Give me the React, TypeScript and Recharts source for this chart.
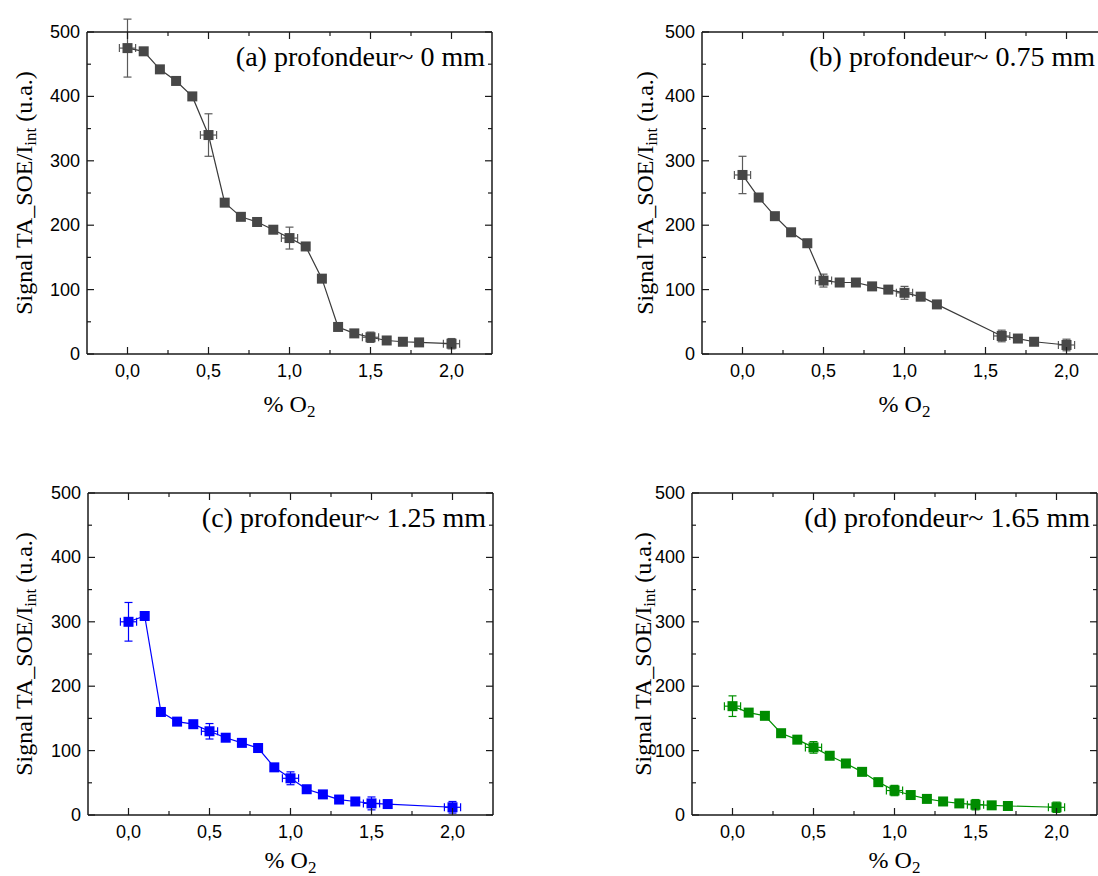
import React from "react";
import { ScatterChart, Scatter, XAxis, YAxis, ErrorBar } from "recharts";

// % O2 values and signal
const O2_A = [0, 0.1, 0.2, 0.3, 0.4, 0.5, 0.6, 0.7, 0.8, 0.9, 1.0, 1.1, 1.2, 1.3, 1.4, 1.5, 1.6, 1.7, 1.8, 2.0];
const SIGNAL_A = [475, 470, 442, 424, 400, 340, 235, 213, 205, 193, 180, 167, 117, 42, 32, 26, 21, 19, 18, 16];
const ERR_Y_A = [45, 0, 0, 0, 0, 33, 0, 0, 0, 0, 17, 0, 0, 0, 0, 8, 0, 0, 0, 8];
const ERR_X_A = [0.05, 0, 0, 0, 0, 0.05, 0, 0, 0, 0, 0.05, 0, 0, 0, 0, 0.05, 0, 0, 0, 0.05];

const O2_B = [0, 0.1, 0.2, 0.3, 0.4, 0.5, 0.6, 0.7, 0.8, 0.9, 1.0, 1.1, 1.2, 1.6, 1.7, 1.8, 2.0];
const SIGNAL_B = [278, 243, 214, 189, 172, 114, 111, 111, 105, 100, 95, 89, 77, 28, 24, 19, 14];
const ERR_Y_B = [29, 0, 0, 0, 0, 10, 0, 0, 0, 0, 10, 0, 0, 9, 0, 0, 9];
const ERR_X_B = [0.05, 0, 0, 0, 0, 0.05, 0, 0, 0, 0, 0.05, 0, 0, 0.05, 0, 0, 0.05];

const O2_C = [0, 0.1, 0.2, 0.3, 0.4, 0.5, 0.6, 0.7, 0.8, 0.9, 1.0, 1.1, 1.2, 1.3, 1.4, 1.5, 1.6, 2.0];
const SIGNAL_C = [300, 309, 160, 145, 141, 130, 120, 112, 104, 74, 57, 40, 32, 24, 21, 18, 17, 12];
const ERR_Y_C = [30, 0, 0, 0, 0, 12, 0, 0, 0, 0, 10, 0, 0, 0, 0, 10, 0, 9];
const ERR_X_C = [0.05, 0, 0, 0, 0, 0.05, 0, 0, 0, 0, 0.05, 0, 0, 0, 0, 0.05, 0, 0.05];

const O2_D = [0, 0.1, 0.2, 0.3, 0.4, 0.5, 0.6, 0.7, 0.8, 0.9, 1.0, 1.1, 1.2, 1.3, 1.4, 1.5, 1.6, 1.7, 2.0];
const SIGNAL_D = [169, 159, 154, 127, 117, 105, 92, 80, 67, 51, 38, 31, 25, 21, 18, 16, 15, 14, 12];
const ERR_Y_D = [16, 0, 0, 0, 0, 9, 0, 0, 0, 0, 8, 0, 0, 0, 0, 8, 0, 0, 8];
const ERR_X_D = [0.05, 0, 0, 0, 0, 0.05, 0, 0, 0, 0, 0.05, 0, 0, 0, 0, 0.05, 0, 0, 0.05];

const X_TICKS = [0, 0.25, 0.5, 0.75, 1, 1.25, 1.5, 1.75, 2];
const Y_TICKS = [0, 50, 100, 150, 200, 250, 300, 350, 400, 450, 500];

const SANS = "Arial, 'Liberation Sans', sans-serif";
const SERIF = "'Times New Roman', 'Liberation Serif', serif";
const AXIS = "#1a1a1a";

const isMajorX = (v: number) => Math.abs(v * 2 - Math.round(v * 2)) < 1e-6;
const isMajorY = (v: number) => v % 100 === 0;

const rows = (xs: number[], ys: number[], ex: number[], ey: number[]) =>
  xs.map((x, i) => ({ x, y: ys[i], ex: ex[i], ey: ey[i] }));

// ticks point inward, like the Origin box axes
const BottomTick = (p: any) => {
  const v = p.payload.value;
  const major = isMajorX(v);
  return (
    <g>
      <line x1={p.x} x2={p.x} y1={p.y} y2={p.y - (major ? 7 : 4)} stroke={AXIS} strokeWidth={1.2} />
      {major && (
        <text x={p.x} y={p.y + 23} textAnchor="middle" fontFamily={SANS} fontSize={18} fill="#000">
          {v.toFixed(1).replace(".", ",")}
        </text>
      )}
    </g>
  );
};

const TopTick = (p: any) => {
  const major = isMajorX(p.payload.value);
  return <line x1={p.x} x2={p.x} y1={p.y} y2={p.y + (major ? 7 : 4)} stroke={AXIS} strokeWidth={1.2} />;
};

const LeftTick = (p: any) => {
  const v = p.payload.value;
  const major = isMajorY(v);
  return (
    <g>
      <line x1={p.x} x2={p.x + (major ? 7 : 4)} y1={p.y} y2={p.y} stroke={AXIS} strokeWidth={1.2} />
      {major && (
        <text x={p.x - 7} y={p.y + 6} textAnchor="end" fontFamily={SANS} fontSize={18} fill="#000">
          {v}
        </text>
      )}
    </g>
  );
};

const RightTick = (p: any) => {
  const major = isMajorY(p.payload.value);
  return <line x1={p.x} x2={p.x - (major ? 7 : 4)} y1={p.y} y2={p.y} stroke={AXIS} strokeWidth={1.2} />;
};

interface PanelProps {
  data: { x: number; y: number; ex: number; ey: number }[];
  title: string;
  titleInset: number;
  left: number;
  top: number;
  yAxisWidth: number;
  marginRight: number;
  yLabelOffset: number;
  xLabelOffset: number;
  marker: string;
  line: string;
  err: string;
}

function Panel({ data, title, titleInset, left, top, yAxisWidth, marginRight, yLabelOffset, xLabelOffset, marker, line, err }: PanelProps) {
  const yLabel = (lp: any) => {
    const vb = lp.viewBox;
    const cx = vb.x + vb.width - yLabelOffset;
    const cy = vb.y + vb.height / 2;
    return (
      <text
        x={cx}
        y={cy}
        transform={`rotate(-90 ${cx} ${cy})`}
        textAnchor="middle"
        dominantBaseline="central"
        fontFamily={SERIF}
        fontSize={24}
        fill="#000"
      >
        Signal TA_SOE/I
        <tspan dy={6} fontSize={17}>int</tspan>
        <tspan dy={-6}> (u.a.)</tspan>
      </text>
    );
  };

  const xLabel = (lp: any) => {
    const vb = lp.viewBox;
    return (
      <text x={vb.x + vb.width / 2} y={vb.y + xLabelOffset} textAnchor="middle" fontFamily={SERIF} fontSize={24} fill="#000">
        % O
        <tspan dy={5} fontSize={17}>2</tspan>
      </text>
    );
  };

  const titleLabel = (lp: any) => {
    const vb = lp.viewBox;
    return (
      <text x={vb.x + vb.width - titleInset} y={vb.y + vb.height + 34} textAnchor="end" fontFamily={SERIF} fontSize={28} fill="#000">
        {title}
      </text>
    );
  };

  return (
    <div style={{ position: "absolute", left, top }}>
      <ScatterChart width={yAxisWidth + 405 + marginRight} height={440} margin={{ top: 31, right: marginRight - 1, left: 0, bottom: 0 }}>
        <XAxis
          xAxisId="b"
          type="number"
          dataKey="x"
          domain={[-0.25, 2.25]}
          ticks={X_TICKS}
          interval={0}
          allowDataOverflow
          height={86}
          tickSize={0}
          tickMargin={0}
          tickLine={false}
          axisLine={{ stroke: AXIS, strokeWidth: 1.5 }}
          tick={(p: any) => <BottomTick {...p} />}
          label={xLabel}
        />
        <XAxis
          xAxisId="t"
          orientation="top"
          type="number"
          dataKey="x"
          domain={[-0.25, 2.25]}
          ticks={X_TICKS}
          interval={0}
          allowDataOverflow
          height={1}
          tickSize={0}
          tickMargin={0}
          tickLine={false}
          axisLine={{ stroke: AXIS, strokeWidth: 1.5 }}
          tick={(p: any) => <TopTick {...p} />}
          label={titleLabel}
        />
        <YAxis
          yAxisId="l"
          type="number"
          dataKey="y"
          domain={[0, 500]}
          ticks={Y_TICKS}
          interval={0}
          allowDataOverflow
          width={yAxisWidth}
          tickSize={0}
          tickMargin={0}
          tickLine={false}
          axisLine={{ stroke: AXIS, strokeWidth: 1.5 }}
          tick={(p: any) => <LeftTick {...p} />}
          label={yLabel}
        />
        <YAxis
          yAxisId="r"
          orientation="right"
          type="number"
          dataKey="y"
          domain={[0, 500]}
          ticks={Y_TICKS}
          interval={0}
          allowDataOverflow
          width={1}
          tickSize={0}
          tickMargin={0}
          tickLine={false}
          axisLine={{ stroke: AXIS, strokeWidth: 1.5 }}
          tick={(p: any) => <RightTick {...p} />}
        />
        {/* hidden copy that keeps the top and right box axes alive */}
        <Scatter
          xAxisId="t"
          yAxisId="r"
          data={data}
          isAnimationActive={false}
          legendType="none"
          shape={() => <g />}
        />
        <Scatter
          xAxisId="b"
          yAxisId="l"
          data={data}
          isAnimationActive={false}
          line={{ stroke: line, strokeWidth: 1.2 }}
          shape={(p: any) => <rect x={p.cx - 5} y={p.cy - 5} width={10} height={10} fill={marker} />}
        >
          <ErrorBar dataKey="ey" direction="y" width={4} stroke={err} strokeWidth={1.2} />
          <ErrorBar dataKey="ex" direction="x" width={4} stroke={err} strokeWidth={1.2} />
        </Scatter>
      </ScatterChart>
    </div>
  );
}

export default function App() {
  return (
    <div style={{ position: "absolute", left: 0, top: 0, width: 1098, height: 876, overflow: "hidden", background: "#fff" }}>
      <Panel
        data={rows(O2_A, SIGNAL_A, ERR_X_A, ERR_Y_A)}
        title="(a) profondeur~ 0 mm"
        titleInset={7}
        left={0}
        top={0}
        yAxisWidth={87}
        marginRight={18}
        yLabelOffset={63}
        xLabelOffset={58}
        marker="#474747"
        line="#3a3a3a"
        err="#5a5a5a"
      />
      <Panel
        data={rows(O2_B, SIGNAL_B, ERR_X_B, ERR_Y_B)}
        title="(b) profondeur~ 0.75 mm"
        titleInset={12}
        left={615}
        top={0}
        yAxisWidth={87}
        marginRight={13}
        yLabelOffset={57}
        xLabelOffset={58}
        marker="#474747"
        line="#3a3a3a"
        err="#5a5a5a"
      />
      <Panel
        data={rows(O2_C, SIGNAL_C, ERR_X_C, ERR_Y_C)}
        title="(c) profondeur~ 1.25 mm"
        titleInset={7}
        left={0}
        top={461}
        yAxisWidth={88}
        marginRight={17}
        yLabelOffset={64}
        xLabelOffset={53}
        marker="#0000ff"
        line="#0000ff"
        err="#0000ff"
      />
      <Panel
        data={rows(O2_D, SIGNAL_D, ERR_X_D, ERR_Y_D)}
        title="(d) profondeur~ 1.65 mm"
        titleInset={7}
        left={605}
        top={461}
        yAxisWidth={87}
        marginRight={17}
        yLabelOffset={49}
        xLabelOffset={53}
        marker="#008c00"
        line="#009000"
        err="#009000"
      />
    </div>
  );
}
